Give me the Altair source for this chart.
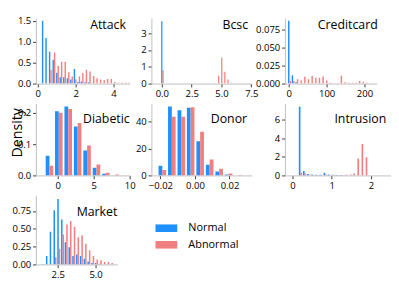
import altair as alt
import pandas as pd

FONT = "Open Sans"
series_names = ["Normal", "Abnormal"]
series_colors = ["#1E90FF", "#F08080"]
y_label = "Density"

# ---- data (bin centres, density of Normal, density of Abnormal) ----
attack_bins = [0.29, 0.47, 0.66, 0.85, 1.04, 1.22, 1.41, 1.60, 1.78, 1.97, 2.16, 2.34, 2.53,
               2.72, 2.91, 3.09, 3.28, 3.47, 3.65, 3.84, 4.03, 4.21, 4.40, 4.59, 4.78]
attack_normal = [1.50, 1.09, 0.76, 0.57, 0.26, 0.15, 0.15, 0.13, 0.10, 0.35, 0.04, 0.05, 0.03,
                 0.03, 0, 0, 0, 0, 0, 0, 0, 0, 0, 0, 0]
attack_abnormal = [0, 0, 0.33, 0.74, 0.42, 0.52, 0.52, 0.27, 0.17, 0.10, 0.17, 0.25, 0.33,
                   0.29, 0.18, 0.13, 0.10, 0.08, 0.11, 0.11, 0.04, 0.02, 0.02, 0.02, 0.02]

bcsc_bins = [0.05, 4.71, 4.97, 5.23, 5.49, 5.75]
bcsc_normal = [3.72, 0, 0, 0, 0, 0]
bcsc_abnormal = [0.80, 0.47, 1.54, 0.71, 0.25, 0.05]

credit_bins = [2.0, 11.65, 21.3, 30.95, 40.6, 50.25, 59.9, 69.55, 79.2, 88.85, 98.5, 108.15,
               117.8, 127.45, 137.1, 146.75, 156.4, 166.05, 175.7, 185.35, 195.0, 204.65]
credit_normal = [0.087, 0.0115, 0.002, 0, 0, 0, 0, 0, 0, 0, 0, 0, 0, 0, 0, 0, 0, 0, 0, 0, 0, 0]
credit_abnormal = [0.0036, 0.0036, 0.006, 0.0044, 0.0095, 0.006, 0.0107, 0.008, 0.008, 0.0099,
                   0.0044, 0.0012, 0.0003, 0.0003, 0.0107, 0.002, 0.0012, 0.0012, 0.0012,
                   0.0036, 0.0024, 0.001]

diabetic_bins = [-1.15, 0.15, 1.46, 2.77, 4.08, 5.39, 6.70, 8.01]
diabetic_normal = [0.063, 0.206, 0.221, 0.157, 0.080, 0.025, 0.005, 0.0]
diabetic_abnormal = [0.031, 0.201, 0.213, 0.168, 0.096, 0.035, 0.009, 0.003]

donor_bins = [-0.0189, -0.0134, -0.0079, -0.0025, 0.0030, 0.0085, 0.0140, 0.0195, 0.0250]
donor_normal = [7.2, 51.2, 48.4, 50.3, 25.5, 7.9, 3.0, 0.7, 0]
donor_abnormal = [4.0, 43.7, 43.7, 50.7, 32.5, 11.9, 4.9, 1.4, 0.3]

intrusion_bins = [0.205, 0.31, 0.415, 0.52, 0.625, 0.73, 0.835, 0.94, 1.045, 1.15, 1.255,
                  1.36, 1.465, 1.55, 1.655, 1.76, 1.865]
intrusion_normal = [7.4, 0.47, 0.15, 0.10, 0.08, 0.08, 0.30, 0.10, 0.08, 0.05, 0.04, 0.02,
                    0, 0, 0, 0, 0]
intrusion_abnormal = [0.30, 0.20, 0.08, 0.06, 0.06, 0.06, 0.10, 0.06, 0.05, 0.05, 0.06, 0.08,
                      0.10, 0.20, 1.83, 3.38, 1.95]

market_bins = [1.57, 1.82, 2.07, 2.32, 2.57, 2.82, 3.06, 3.31, 3.56, 3.81, 4.06, 4.31, 4.56,
               4.81, 5.06, 5.31, 5.55, 5.80, 6.05]
market_normal = [0.005, 0.12, 0.46, 0.76, 0.92, 0.63, 0.31, 0.24, 0.12, 0.14, 0.12, 0.08, 0.04,
                 0.02, 0.02, 0.01, 0, 0, 0]
market_abnormal = [0, 0, 0, 0.10, 0.22, 0.42, 0.56, 0.61, 0.53, 0.38, 0.41, 0.29, 0.20, 0.12,
                   0.07, 0.06, 0.035, 0.035, 0.02]

LEGEND_PATH = "M-2.875,-1L2.875,-1L2.875,1L-2.875,1Z"


def panel(name, bins, normal, abnormal, bar_w, xdom, ydom, xt, yt, xf, yf, w, h, inset, ty,
          extra=()):
    rows = []
    for c, a, b in zip(bins, normal, abnormal):
        rows.append({"series": series_names[0], "x0": c - bar_w, "x1": c, "h": a})
        rows.append({"series": series_names[1], "x0": c, "x1": c + bar_w, "h": b})
    df = pd.DataFrame(rows)
    df = df[df["h"] > 0]
    bars = alt.Chart(df).mark_rect(clip=True).encode(
        x=alt.X("x0:Q", scale=alt.Scale(domain=xdom, nice=False, zero=False),
                axis=alt.Axis(values=xt, format=xf, title=None)),
        x2="x1:Q",
        y=alt.Y("h:Q", scale=alt.Scale(domain=ydom, nice=False),
                axis=alt.Axis(values=yt, format=yf, title=None)),
        y2=alt.datum(0),
        color=alt.Color("series:N",
                        scale=alt.Scale(domain=series_names, range=series_colors),
                        legend=alt.Legend(title=None, orient="none", legendX=132, legendY=216,
                                          direction="vertical", symbolType=LEGEND_PATH,
                                          symbolSize=64, symbolStrokeWidth=0,
                                          symbolOpacity=1, labelFont=FONT,
                                          labelFontSize=11.5, labelOffset=17.5,
                                          rowPadding=4.5, padding=0, labelColor="#000")),
    )
    title = alt.Chart(pd.DataFrame({"t": [name]})).mark_text(
        align="right", baseline="alphabetic", font=FONT, fontSize=13, color="#000"
    ).encode(x=alt.value(w - inset), y=alt.value(ty), text="t:N")
    return alt.layer(bars, title, *extra).properties(width=w, height=h)


def spacer(w, h):
    return alt.Chart(pd.DataFrame({"s": [0]})).mark_point(size=0, opacity=0).encode(
        x=alt.value(0), y=alt.value(0)
    ).properties(width=w, height=h)


density_text = alt.Chart(pd.DataFrame({"t": [y_label]})).mark_text(
    angle=270, align="center", baseline="middle", font=FONT, fontSize=15, color="#000"
).encode(x=alt.value(-19.5), y=alt.value(31), text="t:N")

attack = panel("Attack", attack_bins, attack_normal, attack_abnormal, 0.075,
               [-0.1, 4.85], [0, 1.56], [0, 2, 4], [0, 0.5, 1.0, 1.5], "d", ".1f",
               99, 69, 4, 11)
bcsc = panel("Bcsc", bcsc_bins, bcsc_normal, bcsc_abnormal, 0.104,
             [-0.87, 7.54], [0, 3.9], [0, 2.5, 5.0, 7.5], [0, 1, 2, 3], ".1f", "d",
             106, 69, 4, 11)
credit = panel("Creditcard", credit_bins, credit_normal, credit_abnormal, 3.86,
               [-10, 232.5], [0, 0.0905], [0, 100, 200], [0, 0.025, 0.05, 0.075], "d", ".3f",
               97, 69, -1, 11)
diabetic = panel("Diabetic", diabetic_bins, diabetic_normal, diabetic_abnormal, 0.525,
                 [-3.03, 10.0], [0, 0.231], [0, 5, 10], [0, 0.1, 0.2], "d", ".1f",
                 99, 76, 0, 20.5, extra=(density_text,))
donor = panel("Donor", donor_bins, donor_normal, donor_abnormal, 0.00219,
              [-0.0252, 0.0329], [0, 53.5], [-0.02, 0, 0.02], [0, 20, 40], ".2f", "d",
              106, 76, 5, 20.5)
intrusion = panel("Intrusion", intrusion_bins, intrusion_normal, intrusion_abnormal, 0.042,
                  [-0.19, 2.51], [0, 7.76], [0, 1, 2], [0, 2, 4, 6], "d", "d",
                  112, 76, 5, 20.5)
market = panel("Market", market_bins, market_normal, market_abnormal, 0.1,
               [1.06, 6.44], [0, 0.97], [2.5, 5.0], [0, 0.25, 0.5, 0.75], ".1f", ".2f",
               86, 73, 0, 22)

chart = alt.concat(
    attack, spacer(15, 69), bcsc, spacer(35, 69), credit,
    diabetic, spacer(23, 76), donor, spacer(13, 76), intrusion,
    market,
    columns=5, spacing={"row": 21, "column": 0}, bounds="flush", align="none",
).properties(padding={"left": 2.5, "top": 0, "right": 0, "bottom": 0}).configure_view(
    stroke=None
).configure_axis(
    labelFont=FONT, labelFontSize=10, labelColor="#000", tickColor="#333",
    domainColor="#bdbdbd", tickSize=3.5, labelPadding=2, grid=False,
    labelFlush=False, labelOverlap=False
)

chart.save("out.html", embed_options={"renderer": "svg", "actions": False})
